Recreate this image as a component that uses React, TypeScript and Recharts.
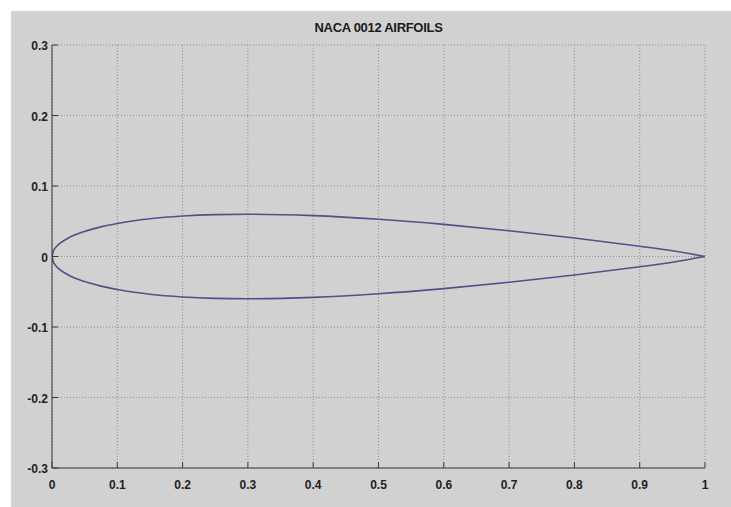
import React from "react";
import { LineChart, Line, XAxis, YAxis, CartesianGrid } from "recharts";

const TITLE = "NACA 0012 AIRFOILS";
const xTicks = [0, 0.1, 0.2, 0.3, 0.4, 0.5, 0.6, 0.7, 0.8, 0.9, 1];
const yTicks = [-0.3, -0.2, -0.1, 0, 0.1, 0.2, 0.3];

const upperX = [0, 0.0025, 0.005, 0.0125, 0.025, 0.05, 0.075, 0.1, 0.15, 0.2, 0.25, 0.3, 0.4, 0.5, 0.6, 0.7, 0.8, 0.9, 0.95, 1];
const upperY = [0, 0.0087, 0.0122, 0.0189, 0.0262, 0.0356, 0.042, 0.0468, 0.0535, 0.0574, 0.0594, 0.06, 0.058, 0.0529, 0.0456, 0.0366, 0.0262, 0.0145, 0.0081, 0];
const lowerX = [0, 0.0025, 0.005, 0.0125, 0.025, 0.05, 0.075, 0.1, 0.15, 0.2, 0.25, 0.3, 0.4, 0.5, 0.6, 0.7, 0.8, 0.9, 0.95, 1];
const lowerY = [0, -0.0087, -0.0122, -0.0189, -0.0262, -0.0356, -0.042, -0.0468, -0.0535, -0.0574, -0.0594, -0.06, -0.058, -0.0529, -0.0456, -0.0366, -0.0262, -0.0145, -0.0081, 0];

const upper = upperX.map((x, i) => ({ x, y: upperY[i] }));
const lower = lowerX.map((x, i) => ({ x, y: lowerY[i] }));

const AXIS = "#3a3a3a";
const FONT = "'Liberation Sans', Arial, sans-serif";
const TICKLEN = 6;

const BottomTick = (p: any) => (
  <g>
    <line x1={p.x} y1={p.y} x2={p.x} y2={p.y - TICKLEN} stroke={AXIS} strokeWidth={1} />
    <text x={p.x} y={p.y + 21} textAnchor="middle" fontSize={12} fontWeight="bold" fill="#222" fontFamily={FONT}>
      {String(p.payload.value)}
    </text>
  </g>
);
const TopTick = (p: any) => (
  <line x1={p.x} y1={p.y} x2={p.x} y2={p.y + TICKLEN} stroke={AXIS} strokeWidth={1} />
);
const LeftTick = (p: any) => (
  <g>
    <line x1={p.x} y1={p.y} x2={p.x + TICKLEN} y2={p.y} stroke={AXIS} strokeWidth={1} />
    <text x={p.x - 4} y={p.y + 5} textAnchor="end" fontSize={12} fontWeight="bold" fill="#222" fontFamily={FONT}>
      {String(p.payload.value)}
    </text>
  </g>
);
const RightTick = (p: any) => (
  <line x1={p.x} y1={p.y} x2={p.x - TICKLEN} y2={p.y} stroke={AXIS} strokeWidth={1} />
);

export default function App() {
  return (
    <div style={{ position: "absolute", left: 0, top: 0, width: 731, height: 507, background: "#ffffff" }}>
      <div style={{ position: "absolute", left: 11, top: 11, width: 720, height: 496, background: "#d1d1d1" }} />
      <div
        style={{
          position: "absolute",
          left: 0,
          top: 20,
          width: 757,
          textAlign: "center",
          fontFamily: FONT,
          fontWeight: "bold",
          fontSize: 13,
          color: "#1a1a1a",
          letterSpacing: -0.3,
        }}
      >
        {TITLE}
      </div>
      <div style={{ position: "absolute", left: 0, top: 0 }}>
        <LineChart width={731} height={507} margin={{ top: 45, right: 26, bottom: 0, left: 0 }}>
          <CartesianGrid stroke="#8a8a8a" strokeDasharray="1 2" fill="none" />
          <XAxis
            dataKey="x"
            type="number"
            domain={[0, 1]}
            ticks={xTicks}
            height={39}
            tickSize={0}
            tickMargin={0}
            tickLine={false}
            stroke={AXIS}
            tick={<BottomTick />}
            interval={0}
            allowDataOverflow
          />
          <XAxis
            xAxisId="top"
            orientation="top"
            dataKey="x"
            type="number"
            domain={[0, 1]}
            ticks={xTicks}
            height={0}
            tickSize={0}
            tickMargin={0}
            tickLine={false}
            stroke={AXIS}
            tick={<TopTick />}
            interval={0}
            allowDataOverflow
          />
          <YAxis
            type="number"
            domain={[-0.3, 0.3]}
            ticks={yTicks}
            width={52}
            tickSize={0}
            tickMargin={0}
            tickLine={false}
            stroke={AXIS}
            tick={<LeftTick />}
            interval={0}
            allowDataOverflow
          />
          <YAxis
            yAxisId="right"
            orientation="right"
            type="number"
            domain={[-0.3, 0.3]}
            ticks={yTicks}
            width={0}
            tickSize={0}
            tickMargin={0}
            tickLine={false}
            stroke={AXIS}
            tick={<RightTick />}
            interval={0}
            allowDataOverflow
          />
          <Line data={upper} dataKey="y" type="monotone" stroke="#50508a" strokeWidth={1.6} dot={false} isAnimationActive={false} />
          <Line data={lower} dataKey="y" type="monotone" stroke="#50508a" strokeWidth={1.6} dot={false} isAnimationActive={false} />
        </LineChart>
      </div>
    </div>
  );
}
